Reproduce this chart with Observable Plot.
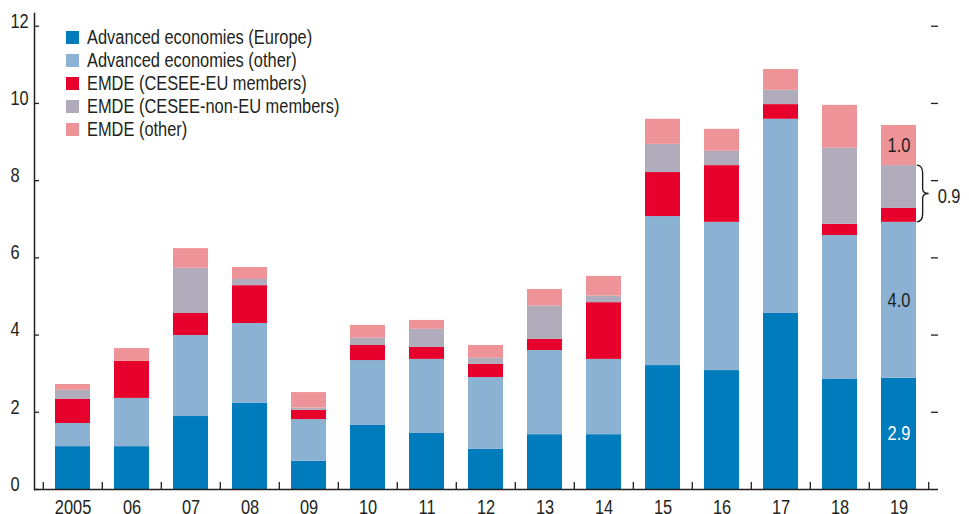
<!DOCTYPE html>
<html><head><meta charset="utf-8">
<script src="https://cdn.jsdelivr.net/npm/d3@7"></script>
<script src="https://cdn.jsdelivr.net/npm/@observablehq/plot@0.6"></script>
<style>
body{margin:0;background:#fff;}
#wrap{position:relative;width:969px;height:514px;font-family:"Liberation Sans",Arial,sans-serif;color:#231f20;}
#legend{position:absolute;left:66px;top:26px;font-size:20px;line-height:23px;}
.item{display:flex;align-items:center;height:23.1px;white-space:nowrap;}
.sw{width:13px;height:13px;margin-right:8px;flex:none;}
.tx{display:inline-block;transform:scaleX(0.82);transform-origin:0 50%;}
svg{display:block;}
</style></head><body><div id="wrap"><div id="legend"></div></div>
<script>
const years = ["2005","06","07","08","09","10","11","12","13","14","15","16","17","18","19"];
const series = ["Advanced economies (Europe)","Advanced economies (other)","EMDE (CESEE-EU members)","EMDE (CESEE-non-EU members)","EMDE (other)"];
const colors = ["#007bbb","#8bb1d3","#e8002d","#b0acbb","#ee9398"];
const aeEurope = [1.11,1.11,1.89,2.23,0.73,1.66,1.45,1.04,1.42,1.42,3.21,3.08,4.56,2.85,2.88];
const aeOther  = [0.60,1.25,2.10,2.07,1.08,1.68,1.92,1.86,2.18,1.95,3.86,3.84,5.03,3.73,4.04];
const ceseeEU  = [0.63,0.96,0.57,0.98,0.24,0.39,0.31,0.34,0.29,1.47,1.14,1.47,0.38,0.29,0.36];
const ceseeNonEU = [0.23,0.00,1.17,0.16,0.06,0.19,0.47,0.16,0.86,0.17,0.73,0.37,0.37,1.97,1.11];
const emdeOther = [0.15,0.33,0.51,0.31,0.40,0.33,0.23,0.33,0.43,0.51,0.65,0.57,0.54,1.11,1.04];
const yTicks = [0,2,4,6,8,10,12];
const segLabels = ["2.9","4.0",null,null,"1.0"];
const braceLabel = "0.9";

const values = [aeEurope, aeOther, ceseeEU, ceseeNonEU, emdeOther];
const table = [];
years.forEach((yr,i)=>series.forEach((s,j)=>table.push({year:yr, series:s, value:values[j][i]})));

// labels on the last bar
const li = years.length-1;
const cum = [0];
values.forEach((v,j)=>cum.push(cum[j]+v[li]));
const lab = [];
segLabels.forEach((t,j)=>{ if(t) lab.push({year:years[li], mid:(cum[j]+cum[j+1])/2, text:t, white:j===0}); });

const W=969,H=514,ML=34,MR=31,MT=13,MB=25,PI=0.4,PO=0.31;
const FW = W-ML-MR;
const step = FW/(years.length-PI+2*PO);
const ink = "#231f20";
const font = '"Liberation Sans",Arial,sans-serif';

const brace = (index, scales) => {
  const bw = typeof scales.x.bandwidth === "number" ? scales.x.bandwidth : step*(1-PI);
  const xb = scales.x(years[li]) + bw;
  const top = scales.y(cum[4]);
  const bot = scales.y(cum[2]);
  const mid = (top+bot)/2;
  const g = d3.create("svg:g");
  const d = `M${xb},${top} Q${xb+6},${top} ${xb+6},${top+8} L${xb+6},${mid-5} Q${xb+6},${mid} ${xb+12},${mid} Q${xb+6},${mid} ${xb+6},${mid+5} L${xb+6},${bot-8} Q${xb+6},${bot} ${xb},${bot}`;
  g.append("path").attr("d", d).attr("fill","none").attr("stroke",ink).attr("stroke-width",1.4);
  g.append("text").attr("x", xb+21).attr("y", mid+3).attr("dy","0.32em").attr("text-anchor","start").attr("fill",ink).text(braceLabel);
  return g.node();
};

const chart = Plot.plot({
  width:W, height:H, marginLeft:ML, marginRight:MR, marginTop:MT, marginBottom:MB,
  style:{fontFamily:font, fontSize:"20px", color:ink, background:"transparent", overflow:"visible"},
  x:{domain:years, paddingInner:PI, paddingOuter:PO, axis:null},
  y:{domain:[0,12.33], axis:null},
  color:{domain:series, range:colors},
  marks:[
    Plot.barY(table, {x:"year", y:"value", fill:"series"}),
    Plot.ruleY([0], {stroke:ink, strokeWidth:1.5}),
    Plot.frame({anchor:"left", stroke:ink, strokeWidth:1.5}),
    Plot.tickY(yTicks, {y:d=>d, insetRight:FW-5, stroke:ink, strokeWidth:1.3}),
    Plot.tickY(yTicks.filter(d=>d>0), {y:d=>d, insetLeft:FW-7, stroke:ink, strokeWidth:1.3}),
    Plot.ruleX(years, {x:d=>d, dx:-step/2, y1:0, y2:0.18, stroke:ink, strokeWidth:1.3}),
    Plot.ruleX([years[li]], {x:d=>d, dx:step/2, y1:0, y2:0.18, stroke:ink, strokeWidth:1.3}),
    Plot.text(yTicks, {y:d=>d, text:d=>String(d), frameAnchor:"left", textAnchor:"start", dx:-24, dy:-5, fill:ink}),
    Plot.axisX({tickSize:0, tickPadding:10, fill:ink, label:null}),
    Plot.text(lab.filter(d=>!d.white), {x:"year", y:"mid", text:"text", fill:ink}),
    Plot.text(lab.filter(d=>d.white), {x:"year", y:"mid", text:"text", fill:"white"}),
    brace
  ]
});
document.getElementById("wrap").prepend(chart);

// condense glyphs horizontally to mimic the condensed face of the original
chart.querySelectorAll("text").forEach(t=>{
  const L = t.getComputedTextLength();
  if (L > 0) { t.setAttribute("textLength", (L*0.82).toFixed(2)); t.setAttribute("lengthAdjust","spacingAndGlyphs"); }
});

const leg = document.getElementById("legend");
series.forEach((s,j)=>{
  const it = document.createElement("div"); it.className="item";
  const sw = document.createElement("span"); sw.className="sw"; sw.style.background=colors[j];
  const tx = document.createElement("span"); tx.className="tx"; tx.textContent=s;
  it.append(sw,tx); leg.append(it);
});
</script></body></html>
